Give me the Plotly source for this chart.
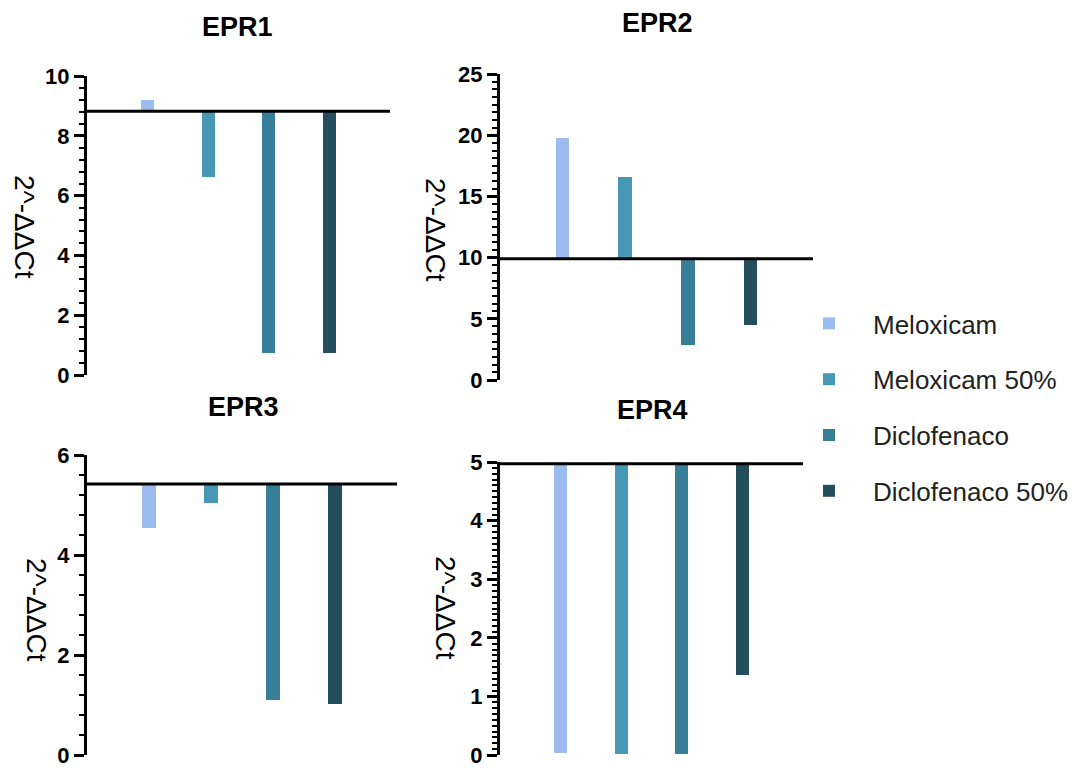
import plotly.graph_objects as go

# ---------------- data ----------------
groups = ["Meloxicam", "Meloxicam 50%", "Diclofenaco", "Diclofenaco 50%"]
colors = ["#9cbcef", "#4698b4", "#387e98", "#234e5e"]
panels = ["EPR1", "EPR2", "EPR3", "EPR4"]
baselines = [8.82, 9.9, 5.42, 4.97]
epr1 = [9.2, 6.63, 0.72, 0.72]
epr2 = [19.8, 16.6, 2.9, 4.5]
epr3 = [4.55, 5.05, 1.11, 1.03]
epr4 = [0.03, 0.01, 0.01, 1.36]
values = [epr1, epr2, epr3, epr4]
y_ranges = [[0, 10], [0, 25], [0, 6], [0, 5]]
major_dtick = [2, 5, 2, 1]
minor_dtick = [0.4, 0.625, 0.4, 0.1]
y_title = "2^-ΔΔCt"

W, H = 1089, 770
# pixel layout of each panel: (x0, x1, ytop, ybottom)
boxes = [(87, 390, 76, 375), (500, 813, 74, 380), (87, 397, 455, 755), (500, 803, 462, 755)]
title_pos = [(237, 27), (657, 23), (243, 407), (652, 410)]
ytitle_pos = [(25, 227), (436, 230), (37, 610), (446, 608)]

FONT = "Liberation Sans, Arial, sans-serif"
fig = go.Figure()
layout = {}
shapes = []
annotations = []
for p in range(4):
    sfx = "" if p == 0 else str(p + 1)
    xa, ya = "x" + sfx, "y" + sfx
    for g in range(4):
        fig.add_trace(go.Bar(
            x=[g], y=[values[p][g] - baselines[p]], base=[baselines[p]],
            width=0.22, marker=dict(color=colors[g], line=dict(width=0)),
            name=groups[g], legendgroup=groups[g], showlegend=(p == 0),
            xaxis=xa, yaxis=ya,
        ))
    x0, x1, yt, yb = boxes[p]
    layout["xaxis" + sfx] = dict(
        domain=[x0 / W, x1 / W], range=[-1, 4], anchor=ya, automargin=False,
        showline=False, showticklabels=False, showgrid=False, zeroline=False, ticks="",
    )
    layout["yaxis" + sfx] = dict(
        domain=[1 - yb / H, 1 - yt / H], range=y_ranges[p], anchor=xa, automargin=False,
        showline=True, linecolor="black", linewidth=3, showgrid=False, zeroline=False,
        ticks="outside", ticklen=10, tickwidth=3, tickcolor="black",
        dtick=major_dtick[p], tick0=0, ticklabeloverflow="allow",
        tickfont=dict(family=FONT, size=22, color="black", weight="bold"),
        minor=dict(dtick=minor_dtick[p], tick0=0, ticks="outside", ticklen=5,
                   tickwidth=2, tickcolor="black", showgrid=False),
    )
    shapes.append(dict(type="line", xref=xa + " domain", yref=ya, x0=0, x1=1,
                       y0=baselines[p], y1=baselines[p],
                       line=dict(color="black", width=3), layer="above"))
    tx, ty = title_pos[p]
    annotations.append(dict(text="<b>" + panels[p] + "</b>", xref="paper", yref="paper",
                            x=tx / W, y=1 - ty / H, showarrow=False,
                            font=dict(family=FONT, size=27, color="black"),
                            xanchor="center", yanchor="middle"))
    ax, ay = ytitle_pos[p]
    annotations.append(dict(text=y_title, xref="paper", yref="paper",
                            x=ax / W, y=1 - ay / H, showarrow=False, textangle=90,
                            font=dict(family=FONT, size=28, color="black"),
                            xanchor="center", yanchor="middle"))

fig.update_layout(
    width=W, height=H, autosize=False,
    margin=dict(l=0, r=0, t=0, b=0),
    paper_bgcolor="white", plot_bgcolor="white",
    barmode="overlay", bargap=0,
    shapes=shapes, annotations=annotations,
    legend=dict(x=785 / W, y=1 - 300 / H, xanchor="left", yanchor="top",
                font=dict(family=FONT, size=26, color="#222222"),
                bgcolor="rgba(0,0,0,0)", itemwidth=78, tracegroupgap=19,
                itemclick=False),
    **layout,
)
fig.write_html("out.html", config={"displayModeBar": False},
               post_script="document.body.style.margin='0';document.body.style.overflow='hidden';")
